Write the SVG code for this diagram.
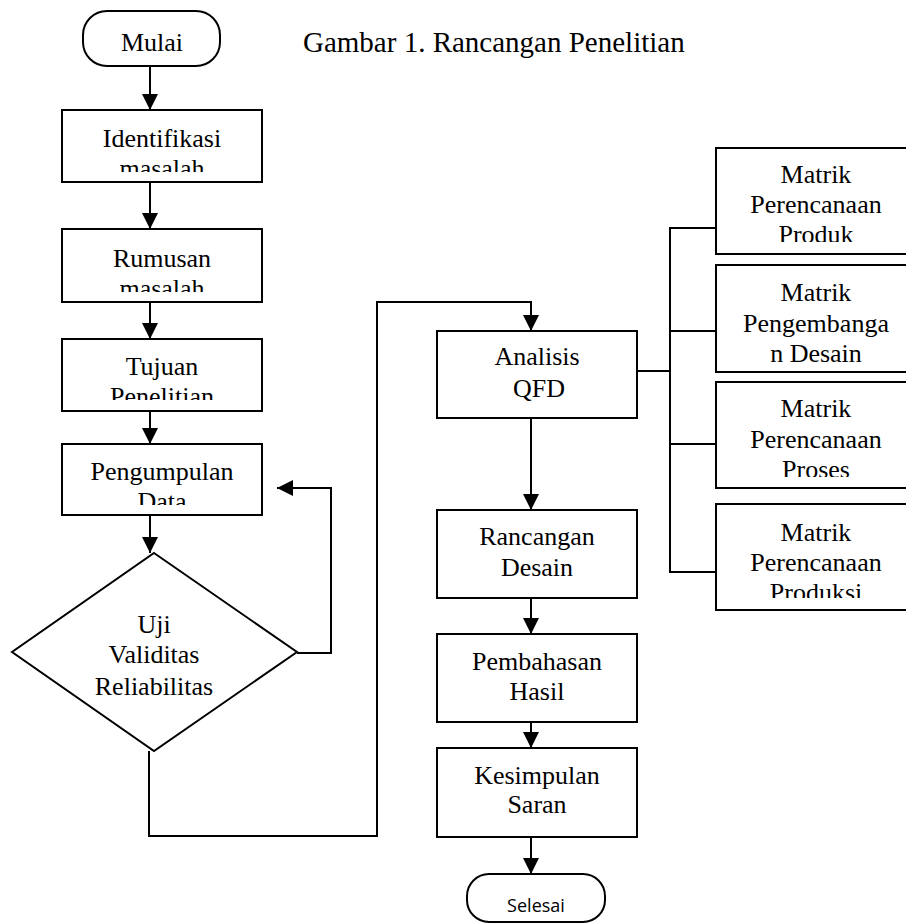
<svg xmlns="http://www.w3.org/2000/svg" width="906" height="924" viewBox="0 0 906 924">
<style>
.shape{fill:#fff;stroke:#000;stroke-width:2}
.line{fill:none;stroke:#000;stroke-width:2}
.t{font-family:"Liberation Serif","Times New Roman",serif;font-size:26px;fill:#000;text-anchor:middle}
.title{font-family:"Liberation Serif","Times New Roman",serif;font-size:29px;fill:#000}
.s{font-family:"Open Sans","Liberation Sans",sans-serif;font-size:18px;fill:#000;text-anchor:middle}
</style>
<defs>
<marker id="arr" markerUnits="userSpaceOnUse" markerWidth="16" markerHeight="16" refX="16" refY="8" orient="auto" viewBox="0 0 16 16">
<path d="M0,0 L16,8 L0,16 z" fill="#000"/>
</marker>
<clipPath id="c1"><rect x="62" y="110" width="200" height="62"/></clipPath>
<clipPath id="c2"><rect x="62" y="229" width="200" height="63"/></clipPath>
<clipPath id="c3"><rect x="62" y="339" width="200" height="61"/></clipPath>
<clipPath id="c4"><rect x="62" y="444" width="200" height="61"/></clipPath>
<clipPath id="m1"><rect x="716" y="148" width="200" height="94"/></clipPath>
<clipPath id="m3"><rect x="716" y="382" width="200" height="95"/></clipPath>
<clipPath id="m4"><rect x="716" y="504" width="200" height="94"/></clipPath>
</defs>
<rect width="906" height="924" fill="#fff"/>
<text class="title" x="303" y="52">Gambar 1. Rancangan Penelitian</text>

<g id="connectors">
<line class="line" x1="150" y1="66" x2="150" y2="110" marker-end="url(#arr)"/>
<line class="line" x1="150" y1="182" x2="150" y2="229" marker-end="url(#arr)"/>
<line class="line" x1="150" y1="302" x2="150" y2="339" marker-end="url(#arr)"/>
<line class="line" x1="150" y1="411" x2="150" y2="444" marker-end="url(#arr)"/>
<line class="line" x1="150" y1="515" x2="150" y2="553" marker-end="url(#arr)"/>
<polyline class="line" points="297,653 331,653 331,488 277,488" marker-end="url(#arr)"/>
<polyline class="line" points="149,751 149,836 377,836 377,302 531,302 531,331" marker-end="url(#arr)"/>
<line class="line" x1="531" y1="418" x2="531" y2="510" marker-end="url(#arr)"/>
<line class="line" x1="531" y1="598" x2="531" y2="634" marker-end="url(#arr)"/>
<line class="line" x1="531" y1="722" x2="531" y2="748" marker-end="url(#arr)"/>
<line class="line" x1="531" y1="837" x2="531" y2="874" marker-end="url(#arr)"/>
<line class="line" x1="637" y1="371" x2="670" y2="371"/>
<line class="line" x1="670" y1="227" x2="670" y2="573"/>
<line class="line" x1="670" y1="228" x2="716" y2="228"/>
<line class="line" x1="670" y1="331" x2="716" y2="331"/>
<line class="line" x1="670" y1="444" x2="716" y2="444"/>
<line class="line" x1="670" y1="572" x2="716" y2="572"/>
</g>

<g id="mulai">
<rect class="shape" x="83" y="11" width="137" height="55" rx="24" ry="24"/>
<text class="t" x="152" y="51">Mulai</text>
</g>
<g id="identifikasi">
<rect class="shape" x="62" y="110" width="200" height="72"/>
<g clip-path="url(#c1)"><text class="t" x="162" y="147">Identifikasi</text><text class="t" x="162" y="177">masalah</text></g>
</g>
<g id="rumusan">
<rect class="shape" x="62" y="229" width="200" height="73"/>
<g clip-path="url(#c2)"><text class="t" x="162" y="267">Rumusan</text><text class="t" x="162" y="297">masalah</text></g>
</g>
<g id="tujuan">
<rect class="shape" x="62" y="339" width="200" height="72"/>
<g clip-path="url(#c3)"><text class="t" x="162" y="375">Tujuan</text><text class="t" x="162" y="405">Penelitian</text></g>
</g>
<g id="pengumpulan">
<rect class="shape" x="62" y="444" width="200" height="71"/>
<g clip-path="url(#c4)"><text class="t" x="162" y="480">Pengumpulan</text><text class="t" x="162" y="510">Data</text></g>
</g>
<g id="uji">
<polygon class="shape" points="154,553 297,652 154,751 12,652"/>
<text class="t" x="154" y="633">Uji</text>
<text class="t" x="154" y="663">Validitas</text>
<text class="t" x="154" y="695">Reliabilitas</text>
</g>
<g id="analisis">
<rect class="shape" x="437" y="331" width="200" height="87"/>
<text class="t" x="537" y="365">Analisis</text>
<text class="t" x="539" y="397">QFD</text>
</g>
<g id="rancangan">
<rect class="shape" x="437" y="510" width="200" height="88"/>
<text class="t" x="537" y="545">Rancangan</text>
<text class="t" x="537" y="576">Desain</text>
</g>
<g id="pembahasan">
<rect class="shape" x="437" y="634" width="200" height="88"/>
<text class="t" x="537" y="670">Pembahasan</text>
<text class="t" x="537" y="700">Hasil</text>
</g>
<g id="kesimpulan">
<rect class="shape" x="437" y="748" width="200" height="89"/>
<text class="t" x="537" y="784">Kesimpulan</text>
<text class="t" x="537" y="813">Saran</text>
</g>
<g id="selesai">
<rect class="shape" x="467" y="874" width="138" height="48" rx="22" ry="22"/>
<text class="s" x="536" y="912">Selesai</text>
</g>
<g id="matrik-produk">
<rect class="shape" x="716" y="148" width="200" height="106"/>
<g clip-path="url(#m1)"><text class="t" x="816" y="183">Matrik</text><text class="t" x="816" y="213">Perencanaan</text><text class="t" x="816" y="243">Produk</text></g>
</g>
<g id="matrik-desain">
<rect class="shape" x="716" y="265" width="200" height="107"/>
<text class="t" x="816" y="301">Matrik</text>
<text class="t" x="816" y="332">Pengembanga</text>
<text class="t" x="816" y="362">n Desain</text>
</g>
<g id="matrik-proses">
<rect class="shape" x="716" y="382" width="200" height="106"/>
<g clip-path="url(#m3)"><text class="t" x="816" y="417">Matrik</text><text class="t" x="816" y="448">Perencanaan</text><text class="t" x="816" y="478">Proses</text></g>
</g>
<g id="matrik-produksi">
<rect class="shape" x="716" y="504" width="200" height="106"/>
<g clip-path="url(#m4)"><text class="t" x="816" y="541">Matrik</text><text class="t" x="816" y="571">Perencanaan</text><text class="t" x="816" y="601">Produksi</text></g>
</g>
</svg>
